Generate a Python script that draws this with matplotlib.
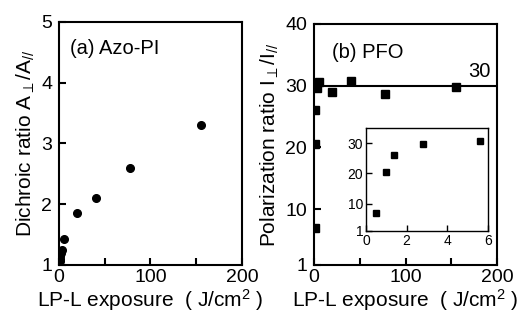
# LP-L exposure dependence: dichroic ratio (Azo-PI) and polarization ratio (PFO)

import matplotlib
matplotlib.use('Agg')
import matplotlib.pyplot as plt
from matplotlib.ticker import MultipleLocator

plt.rcParams['font.family'] = ['Liberation Sans', 'DejaVu Sans']
plt.rcParams['mathtext.fontset'] = 'custom'
plt.rcParams['mathtext.rm'] = 'Liberation Sans'
plt.rcParams['mathtext.it'] = 'Liberation Sans'
plt.rcParams['mathtext.default'] = 'regular'

# (a) Azo-PI
azo_x = [0.3, 0.5, 0.8, 1.0, 1.5, 2.0, 2.8, 5.0, 20, 40, 78, 155]
azo_y = [1.0, 1.03, 1.07, 1.1, 1.15, 1.2, 1.25, 1.43, 1.86, 2.1, 2.6, 3.3]

# (b) PFO
pfo_x = [0.5, 1.0, 1.4, 2.8, 5.6, 20, 40, 78, 155]
pfo_y = [7.0, 20.5, 26.0, 29.6, 30.6, 29.0, 30.8, 28.6, 29.8]
pfo_level = 30

# inset shows only the low-exposure part
inset_x = pfo_x[:5]
inset_y = pfo_y[:5]

TICK = 14
LABEL = 15
PANEL = 14.5

fig = plt.figure(figsize=(5.27, 3.18), dpi=100)
ax1 = fig.add_axes([0.112, 0.167, 0.347, 0.764])
ax2 = fig.add_axes([0.596, 0.167, 0.347, 0.758])
axin = fig.add_axes([0.6945, 0.2736, 0.2309, 0.3239])


def style(ax, size, lw):
    for s in ax.spines.values():
        s.set_linewidth(lw)
    ax.tick_params(which='both', direction='in', top=False, right=False,
                   labelsize=size, width=lw)
    ax.tick_params(which='both', length=5)
    ax.tick_params(axis='x', pad=3)
    ax.tick_params(axis='y', pad=5)


# panel a
ax1.plot(azo_x, azo_y, 'o', color='black', markersize=5.5)
ax1.set_xlim(0, 200)
ax1.set_ylim(1, 5)
ax1.set_xticks([0, 100, 200])
ax1.xaxis.set_minor_locator(MultipleLocator(50))
ax1.set_yticks([1, 2, 3, 4, 5])
style(ax1, TICK, 1.5)
ax1.set_xlabel('LP-L exposure  ( J/cm$^2$ )', fontsize=LABEL, labelpad=1)
ax1.set_ylabel(r'Dichroic ratio A$_{\perp}$/A$_{//}$', fontsize=LABEL, labelpad=3)
ax1.text(0.06, 0.93, '(a) Azo-PI', transform=ax1.transAxes, fontsize=PANEL,
         va='top', ha='left')

# panel b
ax2.axhline(pfo_level, color='black', lw=1.5)
ax2.plot(pfo_x, pfo_y, 's', color='black', markersize=5.5)
ax2.set_xlim(0, 200)
ax2.set_ylim(1, 40)
ax2.set_xticks([0, 100, 200])
ax2.xaxis.set_minor_locator(MultipleLocator(50))
ax2.set_yticks([1, 10, 20, 30, 40])
style(ax2, TICK, 1.5)
ax2.set_xlabel('LP-L exposure  ( J/cm$^2$ )', fontsize=LABEL, labelpad=1)
ax2.set_ylabel(r'Polarization ratio I$_{\perp}$/I$_{//}$', fontsize=LABEL, labelpad=3)
ax2.text(0.10, 0.92, '(b) PFO', transform=ax2.transAxes, fontsize=PANEL,
         va='top', ha='left')
ax2.text(193, pfo_level + 0.8, str(pfo_level), fontsize=PANEL, ha='right', va='bottom')

# inset
axin.plot(inset_x, inset_y, 's', color='black', markersize=4.5)
axin.set_xlim(0, 6)
axin.set_ylim(1, 35)
axin.set_xticks([0, 2, 4, 6])
axin.set_yticks([1, 10, 20, 30])
style(axin, 10, 1.0)
axin.tick_params(which='major', length=4)
axin.tick_params(axis='both', pad=2)

fig.savefig('out.png', dpi=100)
